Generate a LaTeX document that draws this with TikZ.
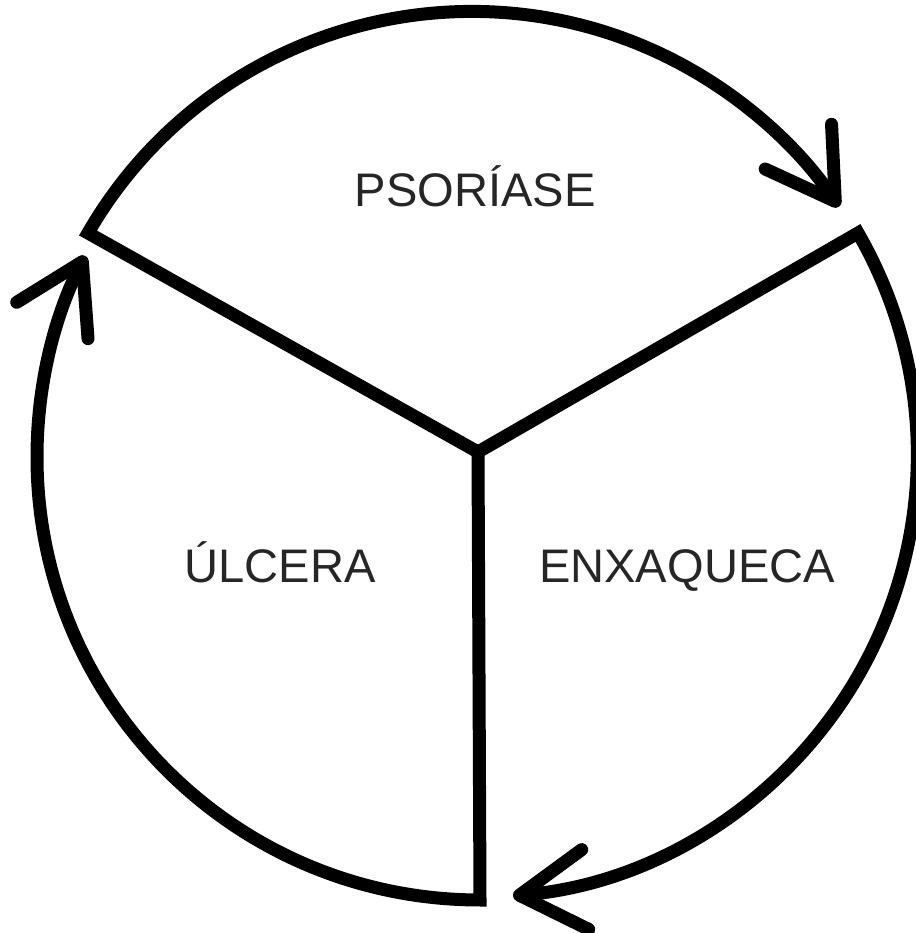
\documentclass[tikz,border=0pt]{standalone}
\usepackage{fontspec}
\setmainfont{Liberation Sans}
\usetikzlibrary{arrows.meta}
\colorlet{cText}{black!85}
\tikzset{
  cycsector/.style={line width=0.13cm, black, line cap=round, line join=miter,
                    -{Straight Barb[length=0.66cm, width=0.80cm, round]}},
  cyclabel/.style={anchor=base, text=cText, font=\fontsize{13.4}{16}\selectfont},
}
\begin{document}
\begin{tikzpicture}
  \useasboundingbox (0,0) rectangle (9.15,9.33);
  \coordinate (jn) at (4.78,4.81);
  \coordinate (pA) at (0.88,7.00);
  \coordinate (pB) at (8.58,7.00);
  \coordinate (pD) at (4.80,0.33);

  % Psoriase
  \draw[cycsector] (jn) -- (pA) arc[start angle=150, end angle=34, radius=4.43];
  \node[cyclabel] (psor) at (4.75,7.26) {PSORÍASE};

  % Enxaqueca
  \draw[cycsector] (jn) -- (pB) arc[start angle=30, end angle=-85, radius=4.43];
  \node[cyclabel] (enxa) at (6.87,3.50) {ENXAQUECA};

  % Ulcera
  \draw[cycsector] (jn) -- (pD) arc[start angle=-90, end angle=-207, radius=4.43];
  \node[cyclabel] (ulce) at (2.80,3.50) {ÚLCERA};
\end{tikzpicture}
\end{document}
